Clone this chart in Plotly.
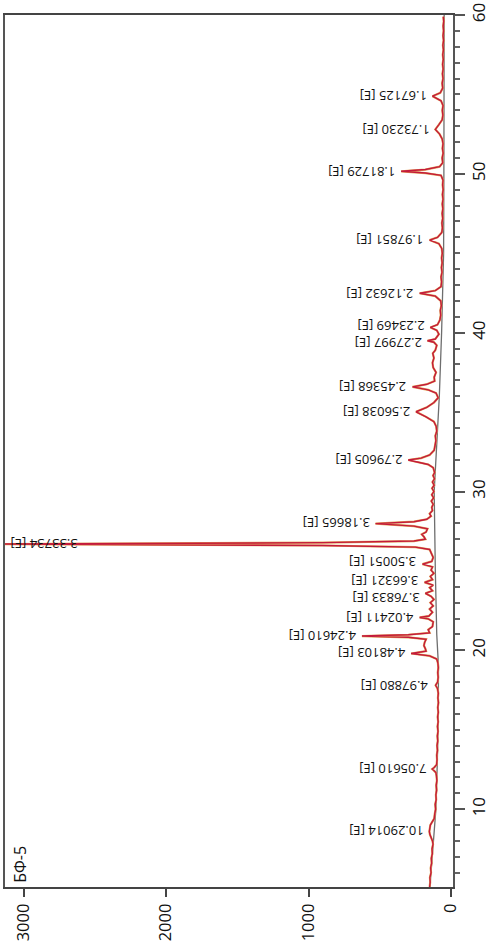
import plotly.graph_objects as go

two_theta = [5.1, 5.4, 5.7, 6.0, 6.3, 6.6, 6.9, 7.2, 7.5, 7.8, 8.0, 8.2, 8.4, 8.6, 8.8, 9.0, 9.2, 9.4, 9.7,
             10.0, 10.3, 10.6, 10.9, 11.2, 11.5, 11.8, 12.1, 12.3, 12.45, 12.53, 12.62, 12.8, 13.1, 13.4, 13.7,
             14.0, 14.3, 14.6, 14.9, 15.2, 15.5, 15.8, 16.1, 16.4, 16.7, 17.0, 17.3, 17.6, 17.8, 18.0, 18.3,
             18.6, 18.9, 19.2, 19.45, 19.65, 19.8, 19.95, 20.1, 20.3, 20.5, 20.7, 20.82, 20.9, 20.98, 21.1,
             21.3, 21.5, 21.8, 21.98, 22.07, 22.16, 22.4, 22.6, 22.8, 23.0, 23.2, 23.4, 23.59, 23.75, 23.95,
             24.1, 24.28, 24.45, 24.65, 24.85, 25.05, 25.25, 25.43, 25.6, 25.85, 26.1, 26.35, 26.5, 26.6,
             26.69, 26.78, 26.88, 27.0, 27.15, 27.3, 27.45, 27.65, 27.82, 27.98, 28.1, 28.25, 28.45, 28.6,
             28.8, 29.0, 29.2, 29.4, 29.6, 29.8, 30.0, 30.2, 30.4, 30.6, 30.8, 31.0, 31.2, 31.5, 31.7, 31.85,
             31.98, 32.1, 32.3, 32.6, 32.9, 33.2, 33.5, 33.8, 34.1, 34.4, 34.7, 35.02, 35.3, 35.6, 35.9, 36.2,
             36.4, 36.59, 36.75, 36.95, 37.2, 37.5, 37.8, 38.1, 38.4, 38.7, 38.9, 39.2, 39.4, 39.49, 39.6,
             39.9, 40.15, 40.33, 40.5, 40.8, 41.1, 41.4, 41.7, 42.0, 42.3, 42.48, 42.65, 42.9, 43.2, 43.5,
             43.8, 44.1, 44.4, 44.7, 45.0, 45.3, 45.6, 45.83, 46.0, 46.3, 46.6, 46.9, 47.2, 47.5, 47.8, 48.1,
             48.4, 48.7, 49.0, 49.3, 49.6, 49.9, 50.05, 50.16, 50.27, 50.45, 50.7, 51.0, 51.3, 51.6, 51.9,
             52.2, 52.5, 52.8, 53.1, 53.4, 53.7, 54.0, 54.3, 54.6, 54.89, 55.1, 55.4, 55.7, 56.0, 56.3, 56.6,
             56.9, 57.2, 57.5, 57.8, 58.1, 58.4, 58.7, 59.0, 59.3, 59.6, 59.9]
counts = [150, 146, 148, 140, 143, 136, 138, 131, 133, 126, 130, 140, 148, 152, 150, 145, 132, 118, 114,
          108, 111, 104, 106, 101, 104, 99, 102, 106, 122, 132, 118, 101, 98, 100, 95,
          98, 93, 96, 91, 95, 90, 94, 89, 93, 88, 92, 89, 95, 108, 94, 90,
          93, 89, 92, 100, 150, 280, 175, 180, 190, 185, 175, 300, 625, 300, 150,
          160, 130, 125, 160, 220, 155, 130, 150, 125, 145, 120, 140, 180, 130, 150,
          125, 185, 130, 145, 120, 140, 130, 200, 135, 125, 135, 150, 250, 900,
          3250, 900, 260, 180, 190, 205, 175, 165, 260, 530, 260, 170, 140, 150,
          130, 135, 125, 138, 122, 135, 120, 133, 118, 130, 116, 126, 115, 125, 160, 230,
          300, 210, 150, 118, 112, 106, 110, 100, 104, 120, 175, 245, 170, 120, 90, 105,
          160, 270, 170, 115, 118, 105, 125, 130, 120, 128, 110, 100, 120, 165, 110,
          85, 100, 145, 95, 78, 72, 75, 68, 72, 110, 220, 110, 70, 66, 70,
          63, 67, 62, 66, 61, 65, 85, 150, 95, 65, 60, 64, 58, 62, 57, 61,
          56, 60, 55, 59, 56, 70, 180, 350, 180, 80, 58, 62, 55, 60, 56,
          62, 80, 110, 85, 62, 57, 61, 56, 70, 130, 75, 58, 62, 56, 60, 55,
          59, 54, 58, 53, 57, 52, 56, 52, 55, 51, 54]

# ---- background line ----
bg_two_theta = [5.1, 8, 10, 13, 16, 19, 21, 25, 28, 30, 33, 36, 40, 45, 50, 60]
bg_counts = [148, 122, 106, 96, 89, 88, 100, 110, 112, 118, 100, 82, 66, 52, 50, 48]

# ---- labelled peaks ----
peak_d = ["10.29014", "7.05610", "4.97880", "4.48103", "4.24610", "4.02411", "3.76833", "3.66321",
          "3.50051", "3.33734", "3.18665", "2.79605", "2.56038", "2.45368", "2.27997", "2.23469",
          "2.12632", "1.97851", "1.81729", "1.73230", "1.67125"]
peak_2theta = [8.59, 12.53, 17.80, 19.80, 20.90, 22.07, 23.59, 24.28, 25.43, 26.69, 27.98, 31.98,
               35.02, 36.59, 39.49, 40.33, 42.48, 45.83, 50.16, 52.80, 54.89]
peak_counts = [152, 132, 120, 280, 625, 220, 180, 185, 200, 3250, 530, 300, 245, 270, 165, 145,
               220, 150, 350, 110, 130]

sample_label = "БФ-5"
intensity_ticks = [0, 1000, 2000, 3000]

# small vertical nudges (px) for the tightly packed labels
label_nudge = {"3.76833": -4, "3.66321": 2, "3.50051": 2, "2.27997": -2, "2.23469": 2}

fig = go.Figure()
fig.add_trace(go.Scatter(x=bg_counts, y=bg_two_theta, mode="lines",
                         line=dict(color="#6e6e6e", width=1.3), hoverinfo="skip"))
fig.add_trace(go.Scatter(x=counts, y=two_theta, mode="lines",
                         line=dict(color="#e3a85a", width=2.2), hoverinfo="skip"))
fig.add_trace(go.Scatter(x=counts, y=two_theta, mode="lines",
                         line=dict(color="#c41a3c", width=1.4)))

for d, t, c in zip(peak_d, peak_2theta, peak_counts):
    fig.add_annotation(x=min(c, 2580), y=t, xref="x", yref="y",
                       text=f"{d} [E]", showarrow=False, textangle=180,
                       xanchor="right", yanchor="middle", xshift=-5,
                       yshift=label_nudge.get(d, 0), borderpad=0,
                       font=dict(family="Open Sans", size=13, color="#111"))

fig.add_annotation(x=0.004, y=0.003, xref="paper", yref="paper", text=sample_label,
                   showarrow=False, textangle=-90, xanchor="left", yanchor="bottom",
                   font=dict(family="Open Sans", size=16, color="#111"))

fig.update_layout(
    width=493, height=948,
    margin=dict(l=3, r=32, t=15, b=61),
    paper_bgcolor="white", plot_bgcolor="white",
    showlegend=False,
    xaxis=dict(range=[3130, -14], tickvals=intensity_ticks, ticktext=[str(v) for v in intensity_ticks],
               tickangle=-90, ticks="outside", ticklen=8, tickwidth=2, tickcolor="#444",
               showline=True, linecolor="#444", linewidth=2, mirror=True,
               showgrid=False, zeroline=False,
               tickfont=dict(family="Open Sans", size=16.5, color="#111")),
    yaxis=dict(range=[5.1, 60], side="right", dtick=10, tick0=0,
               tickangle=-90, ticks="outside", ticklen=10, tickwidth=2, tickcolor="#555",
               minor=dict(dtick=1, ticks="outside", ticklen=5, tickwidth=1.5, tickcolor="#666"),
               showline=True, linecolor="#555", linewidth=2, mirror=True,
               showgrid=False, zeroline=False,
               tickfont=dict(family="Open Sans", size=17, color="#111")),
)

fig.write_html("out.html")
